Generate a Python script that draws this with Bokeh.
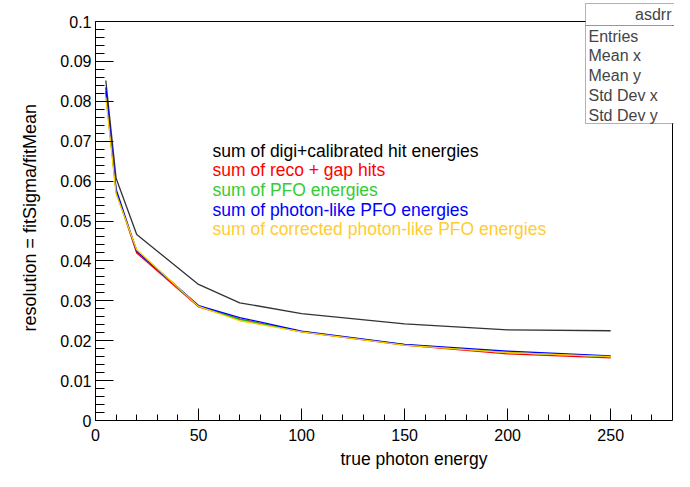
from bokeh.plotting import figure
from bokeh.models import (Range1d, SingleIntervalTicker, CustomJSTickFormatter,
                          BoxAnnotation, Label, Title)
from bokeh.embed import file_html
from bokeh.resources import INLINE

# ---- data ----
energy = [5, 10, 20, 50, 70, 100, 150, 200, 250]
digi_calib = [0.0852, 0.0607, 0.0466, 0.0341, 0.0295, 0.0268, 0.0242, 0.0227, 0.0225]
reco_gap = [0.0825, 0.0575, 0.0420, 0.0285, 0.0254, 0.0222, 0.0189, 0.0167, 0.0157]
pfo = [0.0820, 0.0572, 0.0426, 0.0287, 0.0253, 0.0223, 0.0190, 0.0171, 0.0160]
photon_pfo = [0.0835, 0.0580, 0.0424, 0.0288, 0.0258, 0.0224, 0.0191, 0.0174, 0.0162]
corr_photon_pfo = [0.0810, 0.0568, 0.0428, 0.0286, 0.0250, 0.0222, 0.0189, 0.0170, 0.0160]

legend_texts = ["sum of digi+calibrated hit energies",
                "sum of reco + gap hits",
                "sum of PFO energies",
                "sum of photon-like PFO energies",
                "sum of corrected photon-like PFO energies"]
stat_title = "asdrr"
stat_rows = ["Entries", "Mean x", "Mean y", "Std Dev x", "Std Dev y"]
x_title = "true photon energy"
y_title = "resolution = fitSigma/fitMean"

X_MAX, Y_MAX = 280, 0.1

FONT = "Liberation Sans"
W, H = 674, 471
# pixel layout of the axes box
PX_L, PX_R = 95, 672      # x = 0 and x = X_MAX
PX_B, PX_T = 420, 21      # y = 0 and y = Y_MAX

x_end = X_MAX * (W - PX_L) / (PX_R - PX_L)
y_end = Y_MAX * PX_B / (PX_B - PX_T)

p = figure(width=W, height=H, output_backend="svg", toolbar_location=None,
           x_range=Range1d(0, x_end), y_range=Range1d(0, y_end),
           min_border_left=PX_L, min_border_right=0, min_border_top=0,
           min_border_bottom=H - PX_B)
p.outline_line_color = None
p.grid.visible = False
p.background_fill_color = "white"
p.border_fill_color = "white"

for ax in (p.xaxis[0], p.yaxis[0]):
    ax.axis_line_color = "black"
    ax.major_tick_line_color = "black"
    ax.minor_tick_line_color = "black"
    ax.major_tick_out = 0
    ax.minor_tick_out = 0
    ax.major_label_text_font = FONT
    ax.major_label_text_font_size = "16px"
    ax.major_label_text_color = "black"

p.xaxis.bounds = (0, X_MAX)
p.xaxis.ticker = SingleIntervalTicker(interval=50, num_minor_ticks=5)
p.xaxis.major_tick_in = 12
p.xaxis.minor_tick_in = 6
p.xaxis.major_label_standoff = 8

p.yaxis.bounds = (0, Y_MAX)
p.yaxis.ticker = SingleIntervalTicker(interval=0.01, num_minor_ticks=5)
p.yaxis.major_tick_in = 18
p.yaxis.minor_tick_in = 9
p.yaxis.major_label_standoff = 4
p.yaxis.formatter = CustomJSTickFormatter(code="return (Math.round(tick*1000)/1000).toString();")

# top and right edges of the axes box
p.segment(x0=[0, X_MAX], y0=[Y_MAX, 0], x1=[X_MAX, X_MAX], y1=[Y_MAX, Y_MAX],
          line_color="black", line_width=1)

series = [(digi_calib, "#333333"), (reco_gap, "#ff0000"), (pfo, "#00cc00"),
          (photon_pfo, "#0000ff"), (corr_photon_pfo, "#ffcc00")]
for vals, col in series:
    p.line(energy, vals, line_color=col, line_width=1.3)

legend_colors = ["#000000", "#ff0000", "#33cc33", "#0000ff", "#ffcc33"]
legend_y = [150, 169, 189, 209, 228]
for t, c, yy in zip(legend_texts, legend_colors, legend_y):
    p.add_layout(Label(x=212, y=yy, x_units="canvas", y_units="canvas",
                       text=t, text_color=c, text_font=FONT, text_font_size="17.5px",
                       text_baseline="middle", text_align="left"))

# stats box
BOX_L = 585
p.add_layout(BoxAnnotation(left=BOX_L, right=W + 20, top=3, bottom=25,
                           left_units="canvas", right_units="canvas",
                           top_units="canvas", bottom_units="canvas",
                           fill_color="white", fill_alpha=1, line_color="black",
                           line_width=1, level="overlay"))
p.add_layout(BoxAnnotation(left=BOX_L, right=W + 20, top=25, bottom=123,
                           left_units="canvas", right_units="canvas",
                           top_units="canvas", bottom_units="canvas",
                           fill_color="white", fill_alpha=1, line_color="black",
                           line_width=1, level="overlay"))
p.add_layout(Label(x=671, y=14, x_units="canvas", y_units="canvas", text=stat_title,
                   text_font=FONT, text_font_size="16px", text_align="right",
                   text_baseline="middle", level="overlay"))
stat_y = [36, 55, 75, 95, 115]
for t, yy in zip(stat_rows, stat_y):
    p.add_layout(Label(x=588, y=yy, x_units="canvas", y_units="canvas", text=t,
                       text_font=FONT, text_font_size="16px", text_align="left",
                       text_baseline="middle", level="overlay"))

# axis titles
p.add_layout(Title(text=y_title, align="left", offset=89, standoff=35,
                   text_font=FONT, text_font_size="18px", text_font_style="normal",
                   text_color="black"), "left")
p.add_layout(Title(text=x_title, align="left", offset=245, standoff=6,
                   text_font=FONT, text_font_size="17.5px", text_font_style="normal",
                   text_color="black"), "below")

open("out.html", "w").write(file_html(p, INLINE))
